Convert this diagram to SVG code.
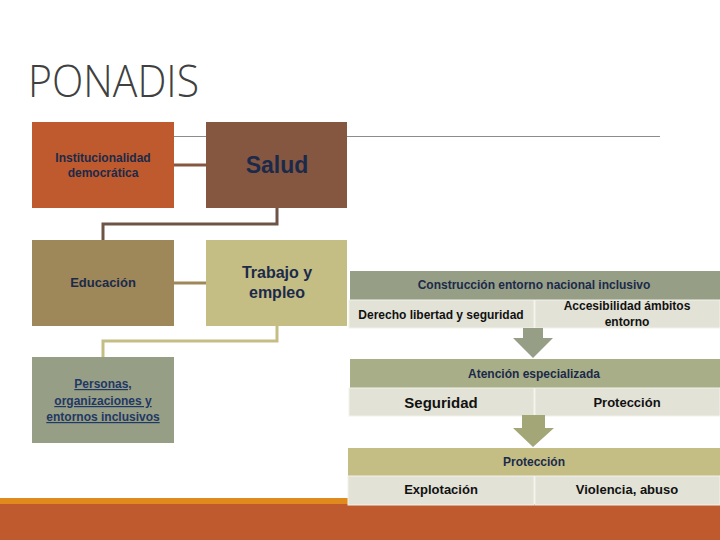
<svg xmlns="http://www.w3.org/2000/svg" width="720" height="540" viewBox="0 0 720 540">
<style>
.t{font-family:"Liberation Sans","DejaVu Sans",sans-serif;font-weight:bold;text-anchor:middle}
.navy{fill:#1B2A4A}
.blk{fill:#111111}
.row{fill:#E2E2D6;stroke:#F2F2EC;stroke-width:1}
.conn{fill:none;stroke-width:3}
</style>
<rect width="720" height="540" fill="#FFFFFF"/>
<text x="28" y="97" font-family="'Open Sans','Liberation Sans',sans-serif" font-weight="300" font-size="44" fill="#404040" textLength="171" lengthAdjust="spacingAndGlyphs">PONADIS</text>
<line x1="174" y1="136.5" x2="660" y2="136.5" stroke="#8C8C8C" stroke-width="1"/>

<g id="connectors">
<line x1="174" y1="165" x2="206" y2="165" stroke="#855741" stroke-width="3"/>
<polyline class="conn" stroke="#6E5347" points="277,208 277,224 103,224 103,240"/>
<line x1="174" y1="283" x2="206" y2="283" stroke="#9E8758" stroke-width="3"/>
<polyline class="conn" stroke="#C4BD84" points="277,326 277,341 103,341 103,357"/>
</g>

<g id="institucionalidad">
<rect x="32" y="122" width="142" height="86" fill="#BE5A2D"/>
<text class="t navy" x="103" y="162" font-size="12">Institucionalidad</text>
<text class="t navy" x="103" y="177" font-size="12">democrática</text>
</g>
<g id="salud">
<rect x="206" y="122" width="141" height="86" fill="#855741"/>
<text class="t navy" x="277" y="173" font-size="23">Salud</text>
</g>
<g id="educacion">
<rect x="32" y="240" width="142" height="86" fill="#9E8758"/>
<text class="t navy" x="103" y="287" font-size="13">Educación</text>
</g>
<g id="trabajo">
<rect x="206" y="240" width="141" height="86" fill="#C4BD84"/>
<text class="t navy" x="277" y="278" font-size="16">Trabajo y</text>
<text class="t navy" x="277" y="298" font-size="16">empleo</text>
</g>
<g id="personas">
<rect x="32" y="357" width="142" height="86" fill="#979E86"/>
<text class="t" x="103" y="388" font-size="12" fill="#1F3864" text-decoration="underline">Personas,</text>
<text class="t" x="103" y="405" font-size="12" fill="#1F3864" text-decoration="underline">organizaciones y</text>
<text class="t" x="103" y="421" font-size="12" fill="#1F3864" text-decoration="underline">entornos inclusivos</text>
</g>

<rect x="0" y="498" width="348" height="6" fill="#E08A1E"/>
<rect x="0" y="504" width="720" height="36" fill="#BE5A2D"/>

<g id="construccion">
<rect x="350" y="271" width="370" height="29" fill="#979E86"/>
<text class="t navy" x="534" y="289" font-size="12">Construcción entorno nacional inclusivo</text>
<rect class="row" x="349" y="300" width="185" height="28"/>
<rect class="row" x="535" y="300" width="185" height="28"/>
<text class="t blk" x="441" y="319" font-size="12">Derecho libertad y seguridad</text>
<text class="t blk" x="627" y="310" font-size="12">Accesibilidad ámbitos</text>
<text class="t blk" x="627" y="326" font-size="12">entorno</text>
</g>
<g id="arrow1">
<polygon points="523,328 543,328 543,338 553,338 533,358 513,338 523,338" fill="#979E86"/>
</g>
<g id="atencion">
<rect x="350" y="359" width="370" height="29" fill="#A8AE87"/>
<text class="t navy" x="534" y="378" font-size="12">Atención especializada</text>
<rect class="row" x="349" y="388" width="185" height="28"/>
<rect class="row" x="535" y="388" width="185" height="28"/>
<text class="t blk" x="441" y="408" font-size="15">Seguridad</text>
<text class="t blk" x="627" y="407" font-size="13">Protección</text>
</g>
<g id="arrow2">
<polygon points="522,415 545,415 545,428 554,428 533,447 513,428 522,428" fill="#A3A676"/>
</g>
<g id="proteccion">
<rect x="348" y="448" width="372" height="28" fill="#C4BD84"/>
<text class="t navy" x="534" y="466" font-size="12">Protección</text>
<rect class="row" x="348" y="476" width="186" height="29"/>
<rect class="row" x="535" y="476" width="185" height="29"/>
<text class="t blk" x="441" y="494" font-size="13">Explotación</text>
<text class="t blk" x="627" y="494" font-size="13">Violencia, abuso</text>
</g>
</svg>
